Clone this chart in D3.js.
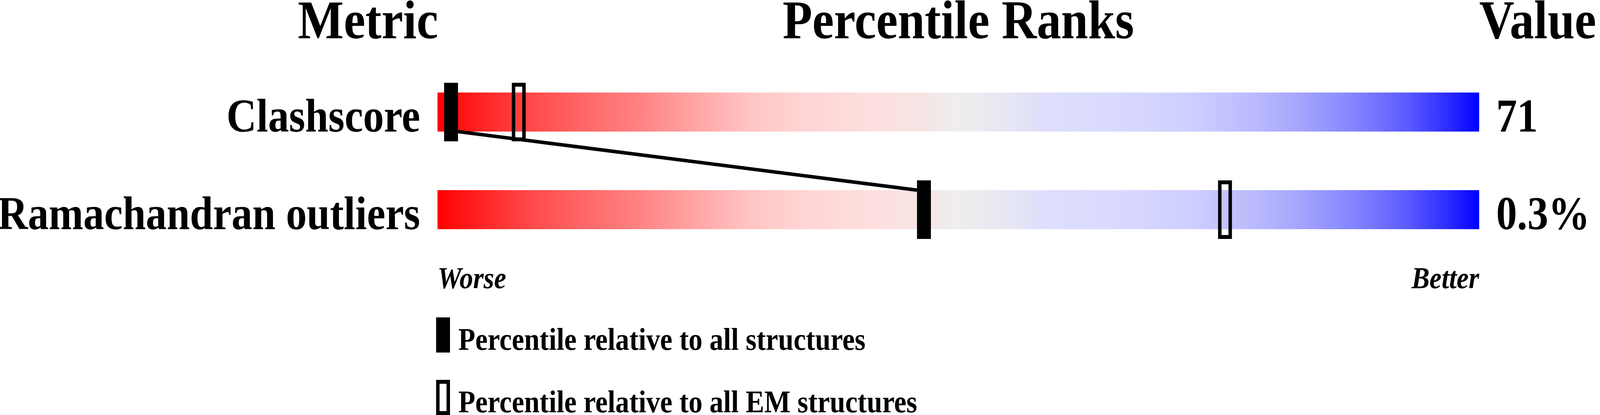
<!DOCTYPE html>
<html lang="en">
<head>
    <meta charset="UTF-8">
    <title>Percentile Ranks</title>
    <script src="https://d3js.org/d3.v7.min.js"></script>
    <style>
        html, body { margin: 0; padding: 0; background: #fff; overflow: hidden; }
        svg { display: block; width: 100vw; height: 100vh; }
        svg text { font-family: "Liberation Serif", "Times New Roman", serif; font-weight: bold; fill: #000; }
    </style>
</head>
<body>
    <div id="chart"></div>
    <script>
        // Data
        const headers = ["Metric", "Percentile Ranks", "Value"];
        const metrics = ["Clashscore", "Ramachandran outliers"];
        const values = ["71", "0.3%"];
        const pctAll = [1.3, 46.7];   // percentile among all structures
        const pctEM = [7.8, 75.6];    // percentile among all EM structures
        const axisEnds = ["Worse", "Better"];
        const legendLabels = ["Percentile relative to all structures", "Percentile relative to all EM structures"];

        const width = 4608;
        const height = 1063;

        // drawn in a 4608x1063 frame, scaled to whatever the window is
        const svg = d3.select("#chart").append("svg")
            .attr("viewBox", `0 0 ${width} ${height}`)
            .attr("preserveAspectRatio", "none");

        // scales
        const x = d3.scaleLinear().domain([0, 100]).range([1260, 4260]);
        const y = d3.scaleBand().domain(metrics).range([237, 587]).paddingInner(0.6);
        const bh = y.bandwidth();

        // red -> grey -> blue slider
        const grad = svg.append("defs").append("linearGradient")
            .attr("id", "slider")
            .attr("x1", "0%").attr("x2", "100%");
        [[0, "#ff0000"], [0.05, "#ff2a2a"], [0.1, "#ff5050"], [0.15, "#ff6c6c"],
         [0.2, "#ff8686"], [0.25, "#ffa6a6"], [0.3, "#ffc4c4"], [0.35, "#ffd4d4"],
         [0.42, "#fedfdf"], [0.47, "#f5e6e6"], [0.5, "#eeeeee"], [0.55, "#e6e6f4"],
         [0.58, "#dedefc"], [0.65, "#d9d9ff"], [0.72, "#cfcfff"], [0.78, "#bcbcfc"],
         [0.83, "#a4a4fe"], [0.88, "#8484ff"], [0.93, "#5c5cff"], [0.97, "#2c2cff"],
         [1, "#0000ff"]].forEach(s => {
            grad.append("stop").attr("offset", s[0]).attr("stop-color", s[1]);
        });

        // headers
        svg.append("text").attr("x", 1262).attr("y", 98)
            .attr("text-anchor", "end").attr("font-size", 140).text(headers[0]);
        svg.append("text").attr("x", (x(0) + x(100)) / 2).attr("y", 98)
            .attr("text-anchor", "middle").attr("font-size", 140).text(headers[1]);
        svg.append("text").attr("x", 4260).attr("y", 98)
            .attr("text-anchor", "start").attr("font-size", 140).text(headers[2]);

        // bars
        svg.append("g").selectAll("rect")
            .data(metrics)
            .join("rect")
            .attr("x", x(0))
            .attr("y", d => y(d))
            .attr("width", x(100) - x(0))
            .attr("height", bh)
            .attr("fill", "url(#slider)");

        // metric names and values
        svg.append("g").selectAll("text")
            .data(metrics)
            .join("text")
            .attr("x", 1210)
            .attr("y", d => y(d) + bh)
            .attr("text-anchor", "end")
            .attr("font-size", 120)
            .text(d => d);

        svg.append("g").selectAll("text")
            .data(values)
            .join("text")
            .attr("x", 4309)
            .attr("y", (d, i) => y(metrics[i]) + bh)
            .attr("font-size", 120)
            .text(d => d);

        // line joining the "all structures" markers
        const pts = [];
        pctAll.forEach((p, i) => {
            if (i > 0) pts.push([x(p) - 20, y(metrics[i])]);
            if (i < pctAll.length - 1) pts.push([x(p) + 20, y(metrics[i]) + bh]);
        });
        svg.append("path")
            .attr("d", d3.line()(pts))
            .attr("fill", "none")
            .attr("stroke", "#000")
            .attr("stroke-width", 9);

        // markers
        svg.append("g").selectAll("rect")
            .data(pctAll)
            .join("rect")
            .attr("x", d => x(d) - 20)
            .attr("y", (d, i) => y(metrics[i]) - 25)
            .attr("width", 40)
            .attr("height", bh + 50)
            .attr("fill", "#000");

        svg.append("g").selectAll("rect")
            .data(pctEM)
            .join("rect")
            .attr("x", d => x(d) - 15)
            .attr("y", (d, i) => y(metrics[i]) - 20)
            .attr("width", 30)
            .attr("height", bh + 40)
            .attr("fill", "none")
            .attr("stroke", "#000")
            .attr("stroke-width", 10);

        // worse / better
        svg.append("text").attr("x", x(0)).attr("y", 738)
            .attr("font-size", 78).attr("font-style", "italic").text(axisEnds[0]);
        svg.append("text").attr("x", x(100)).attr("y", 738)
            .attr("text-anchor", "end")
            .attr("font-size", 78).attr("font-style", "italic").text(axisEnds[1]);

        // legend
        const lg = svg.append("g").selectAll("g")
            .data(legendLabels)
            .join("g")
            .attr("transform", (d, i) => `translate(1256, ${813 + i * 160})`);
        lg.append("rect")
            .attr("x", (d, i) => i === 0 ? 0 : 5)
            .attr("y", (d, i) => i === 0 ? 0 : 5)
            .attr("width", (d, i) => i === 0 ? 40 : 30)
            .attr("height", (d, i) => i === 0 ? 90 : 80)
            .attr("fill", (d, i) => i === 0 ? "#000" : "none")
            .attr("stroke", (d, i) => i === 0 ? "none" : "#000")
            .attr("stroke-width", 10);
        lg.append("text")
            .attr("x", 64)
            .attr("y", 83)
            .attr("font-size", 80)
            .text(d => d);
    </script>
</body>
</html>
